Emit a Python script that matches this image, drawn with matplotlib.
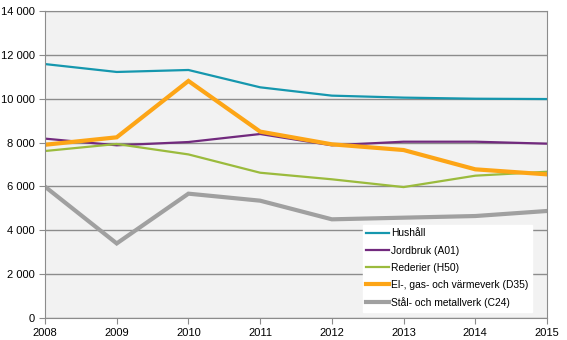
import matplotlib.pyplot as plt
from matplotlib.ticker import FuncFormatter

plt.rcParams['font.family'] = ['Liberation Sans', 'DejaVu Sans']

years = [2008, 2009, 2010, 2011, 2012, 2013, 2014, 2015]
hushall = [11580, 11220, 11310, 10520, 10140, 10050, 10000, 9985]
jordbruk = [8180, 7875, 8025, 8390, 7875, 8040, 8040, 7950]
rederier = [7615, 7935, 7460, 6625, 6325, 5970, 6490, 6670]
el_gas = [7900, 8240, 10810, 8500, 7920, 7660, 6780, 6550]
stal = [5990, 3400, 5670, 5350, 4500, 4575, 4650, 4880]

labels = ["Hushåll", "Jordbruk (A01)", "Rederier (H50)",
          "El-, gas- och värmeverk (D35)", "Stål- och metallverk (C24)"]
colors = ["#1597AE", "#722A7E", "#9BBB3D", "#FDA516", "#A0A0A0"]
widths = [1.6, 1.6, 1.6, 3.0, 3.0]
series = [hushall, jordbruk, rederier, el_gas, stal]

fig = plt.figure(figsize=(5.67, 3.4), dpi=100)
ax = fig.add_axes([45 / 567, 1 - 318 / 340, 502 / 567, 307 / 340])
ax.set_facecolor("#F2F2F2")

for vals, lab, c, w in zip(series, labels, colors, widths):
    ax.plot(years, vals, color=c, lw=w, label=lab, solid_joinstyle="miter")

ax.set_xlim(2008, 2015)
ax.set_ylim(0, 14000)
ax.set_xticks(years)
ax.set_yticks(range(0, 14001, 2000))
ax.yaxis.set_major_formatter(FuncFormatter(lambda v, p: f"{int(v):,}".replace(",", " ")))
ax.grid(axis="y", color="#8C8C8C", lw=1)
ax.set_axisbelow(True)
for s in ax.spines.values():
    s.set_color("#8C8C8C")
ax.tick_params(colors="#8C8C8C", labelcolor="black", labelsize=8, length=4)

leg = ax.legend(loc="lower right", bbox_to_anchor=(0.98, 0.004), fontsize=7.4,
                frameon=True, fancybox=False, framealpha=1, edgecolor="white",
                handlelength=2.2, labelspacing=0.7, borderpad=0.35, handletextpad=0.2)

fig.savefig("out.png", dpi=100)
